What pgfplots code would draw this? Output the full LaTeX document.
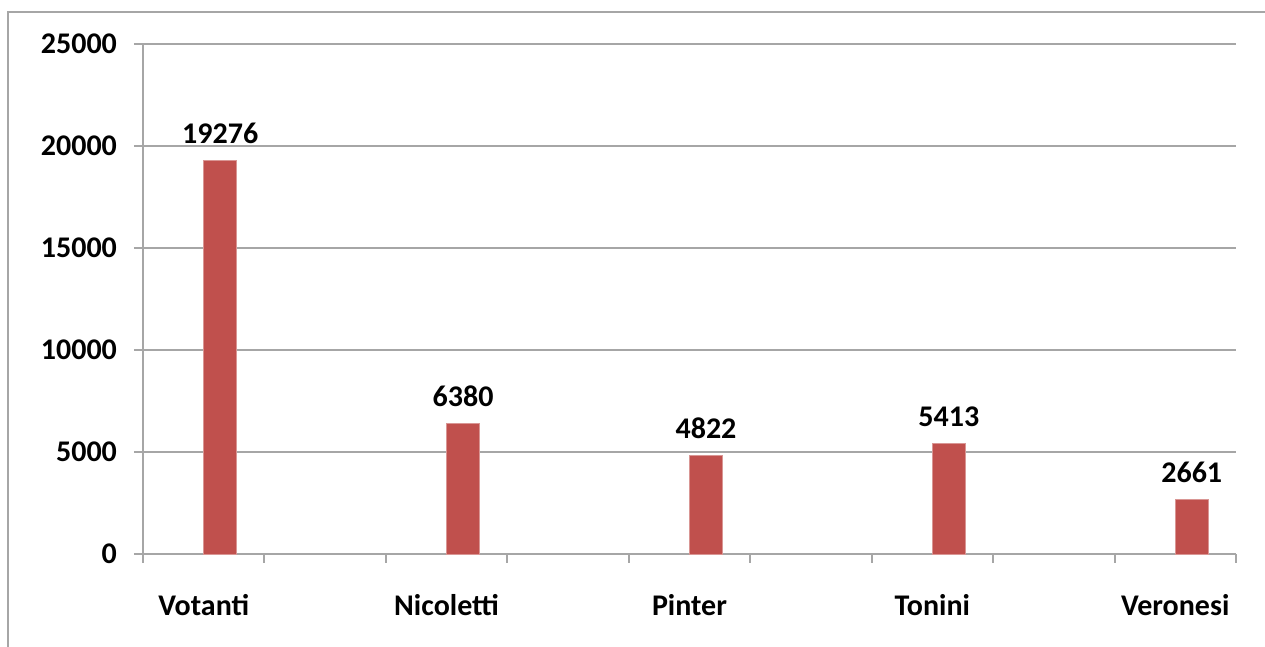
\documentclass[border=0pt]{standalone}
\usepackage{pgfplots}
\pgfplotsset{compat=1.18}
\usepackage{fontspec}
\setmainfont{Carlito}
\definecolor{barred}{HTML}{C0504D}
\definecolor{gridgray}{HTML}{A6A6A6}
\newcommand{\lab}{\fontsize{15}{18}\selectfont\bfseries}
\begin{document}
\begin{tikzpicture}[x=0.5pt,y=0.5pt]
\useasboundingbox (0,0) rectangle (1265,647);
% outer chart frame (only the left and top edges fall inside the picture)
\draw[gridgray, line width=1pt] (8,0) -- (8,635) -- (1265,635);
\begin{axis}[
    at={(71.5pt,46.5pt)}, anchor=south west,
    scale only axis, width=546.5pt, height=255pt,
    xmin=-0.5, xmax=8.5, ymin=0, ymax=25000,
    axis lines*=left,
    axis line style={gridgray, line width=1pt},
    xtick={0,2,4,6,8},
    xticklabels={Votanti,Nicoletti,Pinter,Tonini,Veronesi},
    minor xtick={-0.5,0.5,...,8.5},
    ytick={0,5000,...,25000},
    ymajorgrids,
    major grid style={gridgray, line width=1pt},
    tick style={gridgray, line width=1pt},
    major x tick style={draw=none},
    minor tick length=4.5pt, major tick length=4.5pt,
    tick align=outside,
    scaled y ticks=false,
    /pgf/number format/1000 sep={},
    /pgf/number format/assume math mode=true,
    ticklabel style={font=\lab, text=black},
    yticklabel style={xshift=-5pt},
    xticklabel style={yshift=-12pt},
    clip=false,
]
% bars sit just right of each category centre, as in the original
\addplot[ybar, bar width=0.272, fill=barred, draw=barred!60!white,
    nodes near coords, nodes near coords style={font=\lab, text=black, yshift=5pt}]
    coordinates {(0.136,19276) (2.136,6380) (4.136,4822) (6.136,5413) (8.136,2661)};
\end{axis}
\end{tikzpicture}
\end{document}
